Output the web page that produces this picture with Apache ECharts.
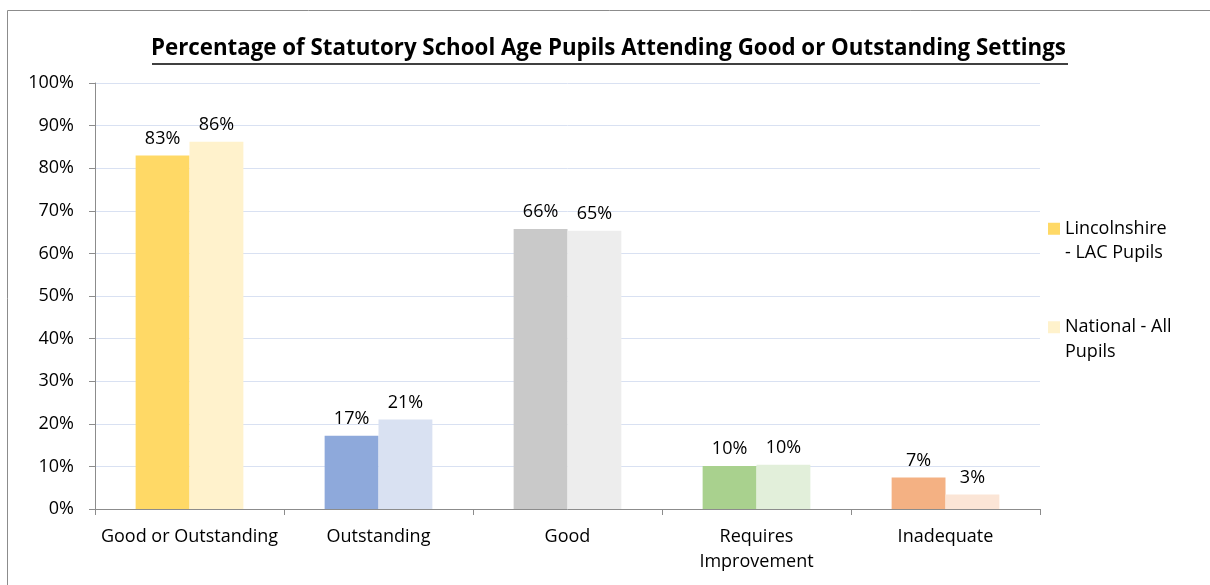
<!DOCTYPE html>
<html><head><meta charset="utf-8">
<script src="https://cdn.jsdelivr.net/npm/echarts@6/dist/echarts.min.js"></script>
<style>html,body{margin:0;padding:0;background:#fff}#c{width:1210px;height:585px}</style>
</head><body><div id="c"></div>
<script>
const categories = ['Good or Outstanding', 'Outstanding', 'Good', 'Requires Improvement', 'Inadequate'];
const lincolnshire = [83, 17.2, 65.7, 10.1, 7.4];
const national = [86.2, 21, 65.3, 10.4, 3.4];
const darkColors = ['#FFD966', '#8EA9DB', '#C9C9C9', '#A9D18E', '#F4B183'];
const lightColors = ['#FFF2CC', '#D9E1F2', '#EDEDED', '#E2EFDA', '#FBE5D6'];
const seriesNames = ['Lincolnshire - LAC Pupils', 'National - All Pupils'];
const yTicks = [0, 10, 20, 30, 40, 50, 60, 70, 80, 90, 100];
const titleText = 'Percentage of Statutory School Age Pupils Attending Good or Outstanding Settings';

const FONT = 'Open Sans';
const chart = echarts.init(document.getElementById('c'));
function mk(vals, cols) {
  return vals.map((v, i) => ({ value: v, itemStyle: { color: cols[i] } }));
}
const lbl = {
  show: true, position: 'top', distance: 8, color: '#000', fontFamily: FONT, fontSize: 18,
  formatter: p => Math.round(p.value) + '%'
};
chart.setOption({
  animation: false,
  title: {
    text: titleText, left: 151, top: 38, padding: 0,
    textStyle: { fontFamily: FONT, fontWeight: 'bold', fontSize: 22.3, color: '#000' }
  },
  graphic: [
    { type: 'rect', silent: true, z: -1, shape: { x: 7.5, y: 10.5, width: 1220, height: 600 },
      style: { fill: 'none', stroke: '#8c8c8c', lineWidth: 1 } },
    { type: 'line', silent: true, shape: { x1: 152, y1: 64, x2: 1068, y2: 64 },
      style: { stroke: '#000', lineWidth: 1.5 } }
  ],
  legend: {
    orient: 'vertical', left: 1043, top: 187, itemWidth: 12, itemHeight: 12, itemGap: 25,
    itemTextGap: 5,
    icon: 'rect',
    data: [
      { name: seriesNames[0], itemStyle: { color: darkColors[0] } },
      { name: seriesNames[1], itemStyle: { color: lightColors[0] } }
    ],
    formatter: n => n === seriesNames[0] ? ' \nLincolnshire\n- LAC Pupils' : ' \nNational - All\nPupils',
    textStyle: { fontFamily: FONT, fontSize: 18, color: '#000', lineHeight: 24.5 }
  },
  grid: { left: 95, right: 170, top: 83, bottom: 76, containLabel: false },
  xAxis: {
    type: 'category', data: categories,
    axisLine: { lineStyle: { color: '#8c8c8c' } },
    axisTick: { show: true, alignWithLabel: false, length: 6, lineStyle: { color: '#8c8c8c' } },
    axisLabel: {
      interval: 0, fontFamily: FONT, fontSize: 18, color: '#000', margin: 15, lineHeight: 25,
      formatter: v => v.length > 19 ? v.replace(' ', '\n') : v
    }
  },
  yAxis: {
    type: 'value', min: 0, max: 100, interval: 10,
    axisLine: { show: true, lineStyle: { color: '#8c8c8c' } },
    axisTick: { show: true, length: 6, lineStyle: { color: '#8c8c8c' } },
    splitLine: { lineStyle: { color: '#D9E1F2' } },
    axisLabel: { fontFamily: FONT, fontSize: 18, color: '#000', margin: 21,
      formatter: v => yTicks.includes(v) ? v + '%' : '' }
  },
  series: [
    { name: seriesNames[0], type: 'bar', data: mk(lincolnshire, darkColors), barGap: '0%', barCategoryGap: '43%', label: lbl, itemStyle: { color: darkColors[0] } },
    { name: seriesNames[1], type: 'bar', data: mk(national, lightColors), label: lbl, itemStyle: { color: lightColors[0] } }
  ]
});
</script></body></html>
